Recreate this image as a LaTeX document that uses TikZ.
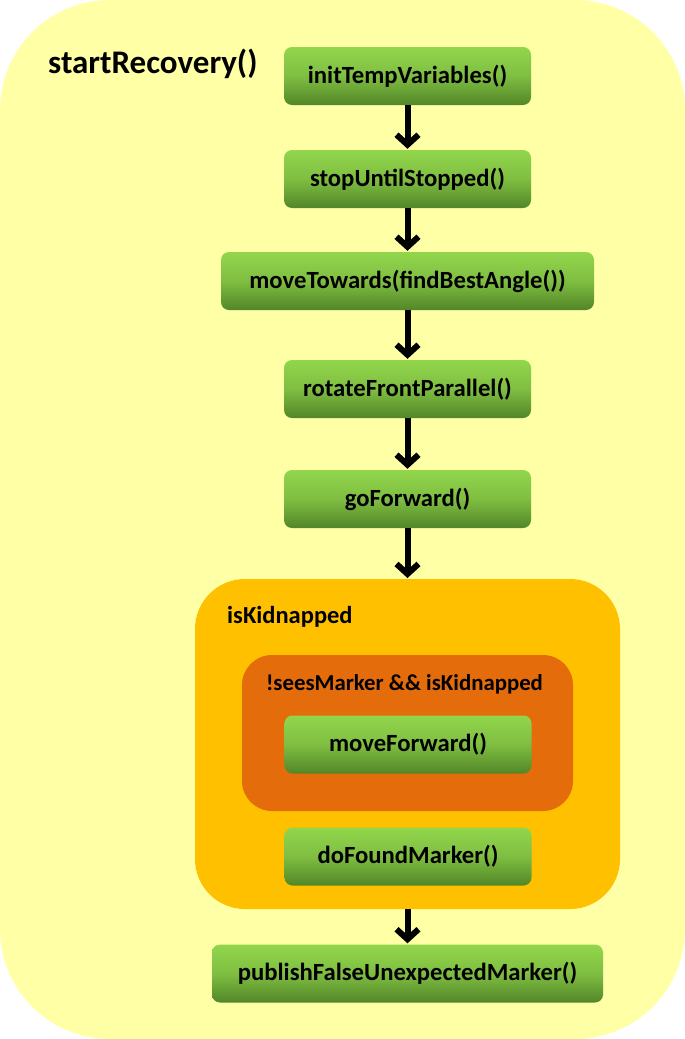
\documentclass[tikz,border=0pt]{standalone}
\usepackage{fontspec}
\setmainfont{Carlito}
\usetikzlibrary{arrows.meta,positioning}
\definecolor{bgyellow}{RGB}{255,255,166}
\definecolor{condorange}{RGB}{255,192,0}
\definecolor{darkorange}{RGB}{228,108,10}
\definecolor{gtop}{RGB}{146,214,76}
\definecolor{gbot}{RGB}{82,134,40}
\tikzset{
  fn/.style={rounded corners=8pt, top color=gtop, bottom color=gbot, middle color=gtop!70!gbot,
    draw=none, minimum height=58pt, inner sep=0pt, font=\fontsize{24.7}{28}\selectfont\bfseries, text=black},
  fnw/.style={fn, minimum width=247pt},
  flow/.style={line width=6pt, -{Straight Barb[length=10pt,width=22pt,line width=6pt]}, shorten >=1pt},
  lbl/.style={font=\fontsize{24.5}{28}\selectfont\bfseries, inner sep=0pt}
}
\begin{document}
\begin{tikzpicture}[x=1pt,y=-1pt]
\useasboundingbox (0,0) rectangle (685,1039);
\fill[bgyellow, rounded corners=110pt] (0,0) rectangle (685,1039);
\node[anchor=west, font=\fontsize{33}{38}\selectfont\bfseries, inner sep=0pt] (title) at (48,64) {startRecovery()};

\node[fnw] (n1) at (407.5,76) {initTempVariables()};
\node[fnw] (n2) at (407.5,179) {stopUntilStopped()};
\node[fn, minimum width=373pt] (n3) at (407.5,281) {moveTowards(findBestAngle())};
\node[fnw] (n4) at (407.5,389) {rotateFrontParallel()};
\node[fnw] (n5) at (407.5,499) {goForward()};

\fill[condorange, rounded corners=50pt] (195,579) rectangle (620,909);
\coordinate (kidtop) at (407.5,579);
\coordinate (kidbot) at (407.5,909);
\node[lbl, anchor=west] (kidlbl) at (227,617) {isKidnapped};

\fill[darkorange, rounded corners=30pt] (242,655) rectangle (573,811);
\node[lbl, font=\fontsize{22.8}{26}\selectfont\bfseries] (seeslbl) at (404.5,684) {!seesMarker \&\& isKidnapped};

\node[fnw] (n6) at (408,744.5) {moveForward()};
\node[fnw] (n7) at (408,856.5) {doFoundMarker()};

\node[fn, minimum width=391pt] (n8) at (407.5,973.5) {publishFalseUnexpectedMarker()};

\draw[flow] (n1.south) -- (n2.north);
\draw[flow] (n2.south) -- (n3.north);
\draw[flow] (n3.south) -- (n4.north);
\draw[flow] (n4.south) -- (n5.north);
\draw[flow] (n5.south) -- (kidtop);
\draw[flow] (kidbot) -- (n8.north);
\end{tikzpicture}
\end{document}
